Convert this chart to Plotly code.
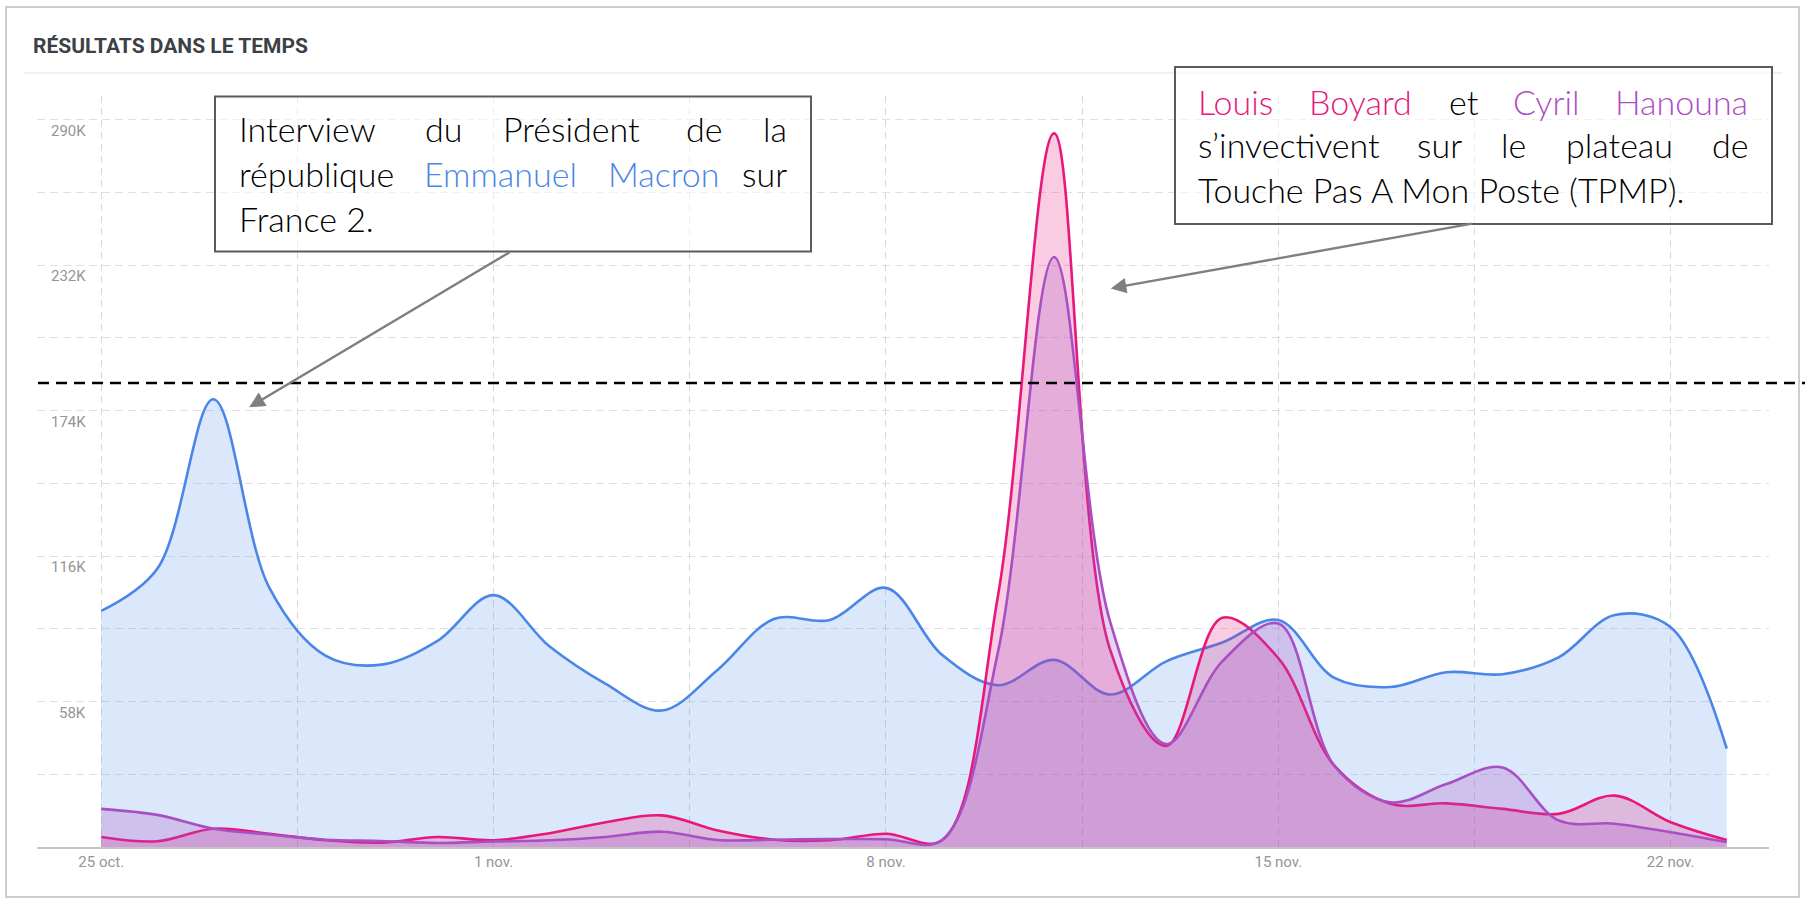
import pandas as pd
import plotly.graph_objects as go

# ---------------- data (values in thousands) ----------------
dates = pd.date_range("2022-10-25", periods=30, freq="D")
macron = [94.1, 110.9, 178.5, 103.3, 76.3, 72.7, 82.2, 100.4, 79.9, 65.0,
          54.4, 70.7, 90.9, 90.5, 103.3, 76.6, 64.5, 74.6, 60.8, 74.0,
          81.5, 90.5, 67.4, 63.8, 69.7, 68.9, 75.6, 92.5, 87.6, 39.2]
boyard = [4.0, 2.3, 7.3, 5.3, 2.7, 1.7, 4.0, 2.7, 5.5, 9.9,
          12.6, 6.6, 2.9, 2.7, 5.3, 2.7, 100.4, 284.5, 78.6, 40.3,
          91.4, 75.3, 32.4, 17.2, 17.4, 15.2, 13.2, 20.5, 9.9, 2.8]
hanouna = [15.2, 12.8, 7.3, 5.0, 2.9, 2.4, 1.6, 2.2, 2.7, 4.0,
           6.1, 2.8, 2.9, 3.2, 3.1, 2.8, 77.9, 235.2, 89.8, 41.0,
           74.0, 89.1, 32.4, 17.8, 25.1, 31.7, 10.6, 9.3, 5.9, 2.0]

series_names = ["Emmanuel Macron", "Louis Boyard", "Cyril Hanouna"]
y_tick_vals = [29, 58, 87, 116, 145, 174, 203, 232, 261, 290]
y_label_vals = [58, 116, 174, 232, 290]
y_label_text = ["58K", "116K", "174K", "232K", "290K"]
x_tick_vals = pd.date_range("2022-10-25", "2022-11-22", freq="84h")
x_tick_text = ["25 oct.", "", "1 nov.", "", "8 nov.", "", "15 nov.", "", "22 nov."]
threshold = 185

title_text = "RÉSULTATS DANS LE TEMPS"

# ---------------- styling ----------------
BLUE, PINK, PURPLE = "#4a86e8", "#e8177b", "#a94fc4"
W, H = 1805, 899
L, R, T, B = 37, 1769, 96, 847
base = pd.Timestamp("2022-10-25")


def px(x):
    return (x - L) / (R - L)


def py(y):
    return (B - y) / (B - T)


fig = go.Figure()
fig.add_trace(go.Scatter(x=dates, y=macron, name=series_names[0], mode="lines",
                         line=dict(color=BLUE, width=2.6, shape="spline", smoothing=1),
                         fill="tozeroy", fillcolor="rgba(74,134,232,0.2)"))
fig.add_trace(go.Scatter(x=dates, y=boyard, name=series_names[1], mode="lines",
                         line=dict(color=PINK, width=2.6, shape="spline", smoothing=1),
                         fill="tozeroy", fillcolor="rgba(232,23,123,0.22)"))
fig.add_trace(go.Scatter(x=dates, y=hanouna, name=series_names[2], mode="lines",
                         line=dict(color=PURPLE, width=2.6, shape="spline", smoothing=1),
                         fill="tozeroy", fillcolor="rgba(169,79,196,0.25)"))

x_left = base - pd.Timedelta(hours=27.5)
x_right = base + pd.Timedelta(days=29.754)

fig.update_layout(
    width=W, height=H, autosize=False,
    margin=dict(l=L, r=W - R, t=T, b=H - B, pad=0),
    paper_bgcolor="white", plot_bgcolor="white",
    showlegend=False,
    xaxis=dict(type="date", range=[x_left, x_right], tickmode="array",
               tickvals=list(x_tick_vals), ticktext=x_tick_text,
               showgrid=True, gridcolor="#d8d8d8", griddash="7px,5px", gridwidth=1.3,
               showline=True, linecolor="#c4c4c4", linewidth=1.5,
               ticks="", ticklabelstandoff=0, zeroline=False,
               tickfont=dict(family="Roboto", size=15, color="#959595")),
    yaxis=dict(range=[0, 299.4], tickmode="array", tickvals=y_tick_vals,
               showticklabels=False, showgrid=True, gridcolor="#e0e0e0",
               griddash="8px,5px", gridwidth=1.3, zeroline=False),
)

shapes = []
# card frame
shapes.append(dict(type="rect", xref="paper", yref="paper", x0=px(6), x1=px(1799),
                   y0=py(897), y1=py(7), line=dict(color="#cdcdcd", width=2), layer="below"))
# title separator
shapes.append(dict(type="line", xref="paper", yref="paper", x0=px(24), x1=px(1782),
                   y0=py(73), y1=py(73), line=dict(color="#ededed", width=1.5)))
# threshold dashed line
shapes.append(dict(type="line", xref="paper", yref="y", x0=px(38), x1=px(1806),
                   y0=threshold, y1=threshold, line=dict(color="black", width=2.5, dash="11px,7px")))
# annotation boxes
shapes.append(dict(type="rect", xref="paper", yref="paper", x0=px(215), x1=px(811),
                   y0=py(251.5), y1=py(96.5), line=dict(color="#5b5b5b", width=2),
                   fillcolor="rgba(255,255,255,0.55)", layer="above"))
shapes.append(dict(type="rect", xref="paper", yref="paper", x0=px(1175), x1=px(1772),
                   y0=py(224), y1=py(67), line=dict(color="#5b5b5b", width=2),
                   fillcolor="rgba(255,255,255,0.55)", layer="above"))
fig.update_layout(shapes=shapes)

ann = []
# title
ann.append(dict(text="<b>" + title_text + "</b>", xref="paper", yref="paper", x=px(31), y=py(46),
                xanchor="left", yanchor="middle", showarrow=False,
                font=dict(family="Roboto", size=21, color="#3c4145")))
# y labels
for v, t in zip(y_label_vals, y_label_text):
    ann.append(dict(text=t, xref="paper", yref="y", x=px(87.5), y=v, xanchor="right",
                    yanchor="middle", yshift=-11, showarrow=False,
                    font=dict(family="Roboto", size=15, color="#959595")))

# arrows
ann.append(dict(text="", x=base + pd.Timedelta(days=2.64), y=175.3, xref="x", yref="y",
                ax=262, ay=-156, showarrow=True, arrowhead=2, arrowsize=1.3,
                arrowwidth=2.4, arrowcolor="#7f7f7f", standoff=0))
ann.append(dict(text="", x=base + pd.Timedelta(days=18.01), y=222.7, xref="x", yref="y",
                ax=363, ay=-65, showarrow=True, arrowhead=2, arrowsize=1.3,
                arrowwidth=2.4, arrowcolor="#7f7f7f", standoff=0))

BLACK = "#000000"
FS = 34
# (word, colour, x position in px, anchor)
box1 = [
    (128.5, [("Interview", BLACK, 236.5, "left"), ("du", BLACK, 443, "center"),
             ("Président", BLACK, 571, "center"), ("de", BLACK, 704, "center"),
             ("la", BLACK, 788.7, "right")]),
    (173.5, [("république", BLACK, 236.5, "left"), ("Emmanuel", BLUE, 500.8, "center"),
             ("Macron", BLUE, 663.8, "center"), ("sur", BLACK, 788.7, "right")]),
    (218.5, [("France 2.", BLACK, 236.5, "left")]),
]
box2 = [
    (101, [("Louis", PINK, 1196, "left"), ("Boyard", PINK, 1360.3, "center"),
           ("et", BLACK, 1464, "center"), ("Cyril", "#b04cc4", 1546.8, "center"),
           ("Hanouna", "#b04cc4", 1750, "right")]),
    (144.5, [("s’invectivent", BLACK, 1196, "left"), ("sur", BLACK, 1439, "center"),
             ("le", BLACK, 1513.5, "center"), ("plateau", BLACK, 1619, "center"),
             ("de", BLACK, 1750, "right")]),
    (189.5, [("Touche Pas A Mon Poste (TPMP).", BLACK, 1196, "left")]),
]
for yline, words in box1 + box2:
    for w, c, xp, anc in words:
        ann.append(dict(text=w, xref="paper", yref="paper", x=px(xp), y=py(yline),
                        xanchor=anc, yanchor="middle", showarrow=False,
                        font=dict(family="Lato", size=FS, color=c, weight=300)))

fig.update_layout(annotations=ann)

fig.write_html("out.html", config={"displayModeBar": False},
               post_script="document.body.style.margin='0';document.body.style.overflow='hidden';")
